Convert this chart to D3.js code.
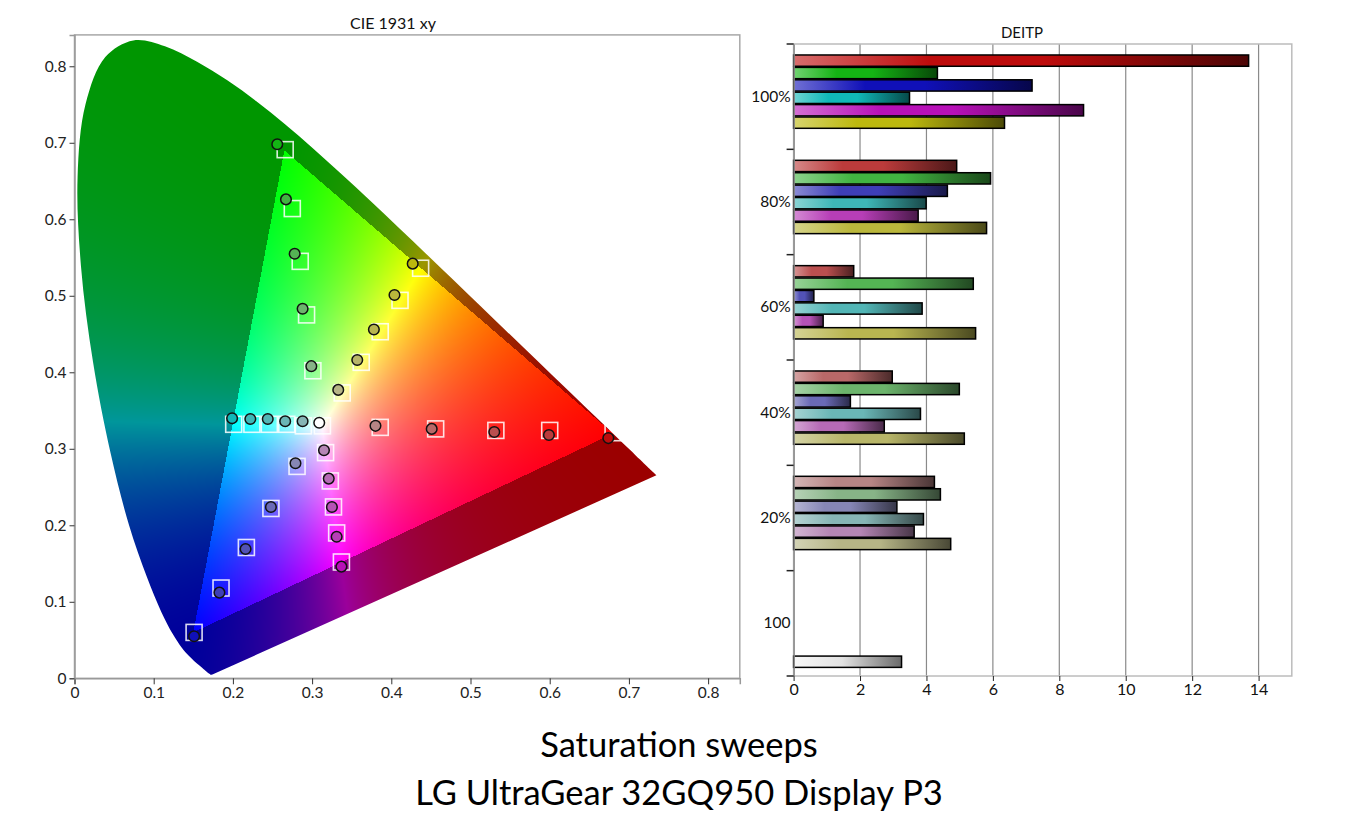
<!DOCTYPE html>
<html>
<head>
<meta charset="utf-8">
<script src="https://cdn.jsdelivr.net/npm/d3@7"></script>
<style>
  body { margin: 0; background: #fff; }
  svg { display: block; font-family: Lato, "Open Sans", sans-serif; }
</style>
</head>
<body>
<svg id="chart" width="1353" height="837"></svg>
<script>
// Saturation levels, low to high
const levels = ["20%", "40%", "60%", "80%", "100%"];
const seriesNames = ["Red", "Green", "Blue", "Cyan", "Magenta", "Yellow"];

// CIE 1931 xy: targets (squares) and measured (circles), 20% -> 100%
const redTarget = [[0.386, 0.328], [0.456, 0.326], [0.532, 0.324], [0.600, 0.324], [0.680, 0.321]];
const redMeasured = [[0.380, 0.330], [0.451, 0.326], [0.530, 0.322], [0.599, 0.318], [0.674, 0.314]];
const greenTarget = [[0.301, 0.402], [0.293, 0.475], [0.285, 0.545], [0.275, 0.614], [0.266, 0.691]];
const greenMeasured = [[0.299, 0.408], [0.288, 0.483], [0.278, 0.555], [0.267, 0.626], [0.256, 0.698]];
const blueTarget = [[0.281, 0.277], [0.248, 0.222], [0.217, 0.171], [0.185, 0.118], [0.151, 0.060]];
const blueMeasured = [[0.279, 0.281], [0.248, 0.224], [0.216, 0.169], [0.183, 0.112], [0.151, 0.055]];
const cyanTarget = [[0.289, 0.330], [0.268, 0.332], [0.246, 0.332], [0.224, 0.332], [0.201, 0.332]];
const cyanMeasured = [[0.288, 0.336], [0.266, 0.336], [0.244, 0.339], [0.222, 0.339], [0.199, 0.340]];
const magentaTarget = [[0.317, 0.295], [0.323, 0.258], [0.327, 0.224], [0.331, 0.190], [0.337, 0.152]];
const magentaMeasured = [[0.315, 0.298], [0.321, 0.261], [0.325, 0.224], [0.331, 0.185], [0.337, 0.146]];
const yellowTarget = [[0.338, 0.373], [0.362, 0.413], [0.386, 0.453], [0.411, 0.494], [0.437, 0.536]];
const yellowMeasured = [[0.333, 0.377], [0.357, 0.416], [0.378, 0.456], [0.404, 0.501], [0.427, 0.542]];
const whiteTarget = [0.313, 0.330];
const whiteMeasured = [0.309, 0.334];

// DEITP per series, 20% -> 100%
const deitpRed = [4.24, 2.97, 1.81, 4.91, 13.70];
const deitpGreen = [4.42, 4.99, 5.41, 5.93, 4.33];
const deitpBlue = [3.11, 1.71, 0.61, 4.63, 7.18];
const deitpCyan = [3.91, 3.82, 3.87, 3.99, 3.49];
const deitpMagenta = [3.63, 2.73, 0.89, 3.75, 8.73];
const deitpYellow = [4.73, 5.14, 5.48, 5.81, 6.35];
const deitpWhite = 3.25;

// axis / category labels
const cieTicks = [0, 0.1, 0.2, 0.3, 0.4, 0.5, 0.6, 0.7, 0.8];
const deitpTicks = [0, 2, 4, 6, 8, 10, 12, 14];
const barCategories = ["100%", "80%", "60%", "40%", "20%", "100"];

// Display P3 primaries and the CIE 1931 2deg spectral locus (380-700nm)
const p3Primaries = [[0.680, 0.320], [0.265, 0.690], [0.150, 0.060]];
const spectralLocus = [
  [0.1741, 0.0050], [0.1740, 0.0050], [0.1738, 0.0049], [0.1736, 0.0049], [0.1733, 0.0048],
  [0.1730, 0.0048], [0.1726, 0.0048], [0.1721, 0.0048], [0.1714, 0.0051], [0.1703, 0.0058],
  [0.1689, 0.0069], [0.1669, 0.0086], [0.1644, 0.0109], [0.1611, 0.0138], [0.1566, 0.0177],
  [0.1510, 0.0227], [0.1440, 0.0297], [0.1355, 0.0399], [0.1241, 0.0578], [0.1096, 0.0868],
  [0.0913, 0.1327], [0.0687, 0.2007], [0.0454, 0.2950], [0.0235, 0.4127], [0.0082, 0.5384],
  [0.0039, 0.6548], [0.0139, 0.7502], [0.0389, 0.8120], [0.0743, 0.8338], [0.1142, 0.8262],
  [0.1547, 0.8059], [0.1929, 0.7816], [0.2296, 0.7543], [0.2658, 0.7243], [0.3016, 0.6923],
  [0.3373, 0.6589], [0.3731, 0.6245], [0.4087, 0.5896], [0.4441, 0.5547], [0.4788, 0.5202],
  [0.5125, 0.4866], [0.5448, 0.4544], [0.5752, 0.4242], [0.6029, 0.3965], [0.6270, 0.3725],
  [0.6482, 0.3514], [0.6658, 0.3340], [0.6801, 0.3197], [0.6915, 0.3083], [0.7006, 0.2993],
  [0.7079, 0.2920], [0.7140, 0.2859], [0.7190, 0.2809], [0.7230, 0.2770], [0.7260, 0.2740],
  [0.7283, 0.2717], [0.7300, 0.2700], [0.7311, 0.2689], [0.7320, 0.2680], [0.7334, 0.2666],
  [0.7344, 0.2656], [0.7347, 0.2653]
];

// styles
const seriesColors = ["#be0c0c", "#14b414", "#1010b8", "#10b8b8", "#b810b8", "#bcb80e"];
const levelMix = [0.28, 0.45, 0.6, 0.72, 1];
const mixGray = "#b4b4b4";

const svg = d3.select("#chart");
const defs = svg.append("defs");

function levelColor(si, li) {
  return d3.interpolateRgb(mixGray, seriesColors[si])(levelMix[li]);
}

// ---------------- CIE 1931 xy ----------------
const x = d3.scaleLinear().domain([0, 0.84]).range([74.5, 739.8]);
const y = d3.scaleLinear().domain([0, 0.841]).range([678.3, 34.9]);

// horseshoe outline, closed by the straight line of purples
const locusLine = d3.line().x(d => x(d[0])).y(d => y(d[1])).curve(d3.curveCatmullRom);
defs.append("clipPath").attr("id", "locus-clip")
  .append("path").attr("d", locusLine(spectralLocus) + "Z");

// chromaticity background, one pixel at a time
function drawGamutImage() {
  const left = 74, top = 35, w = 666, h = 644;
  const canvas = document.createElement("canvas");
  canvas.width = w; canvas.height = h;
  const ctx = canvas.getContext("2d");
  const img = ctx.createImageData(w, h);
  const triPx = p3Primaries.map(d => [x(d[0]), y(d[1])]);

  for (let j = 0; j < h; j++) {
    for (let i = 0; i < w; i++) {
      const px = left + i + 0.5, py = top + j + 0.5;
      const cx = Math.max(0.001, x.invert(px)), cy = Math.max(0.001, y.invert(py));
      const X = cx / cy, Y = 1, Z = Math.max(0, (1 - cx - cy) / cy);
      let r = Math.max(0, 2.4934969 * X - 0.9313836 * Y - 0.4027108 * Z);
      let g = Math.max(0, -0.8294890 * X + 1.7626641 * Y + 0.0236247 * Z);
      let b = Math.max(0, 0.0358458 * X - 0.0761724 * Y + 0.9568845 * Z);
      const m = Math.max(r, g, b) || 1;
      r /= m; g /= m; b /= m;
      const k = (j * w + i) * 4;
      if (d3.polygonContains(triPx, [px, py])) {
        img.data[k] = 255 * r;
        img.data[k + 1] = 255 * g;
        img.data[k + 2] = 255 * b;
      } else {
        img.data[k] = 155 * Math.pow(r, 1.4);
        img.data[k + 1] = 150 * Math.pow(g, 1.4);
        img.data[k + 2] = 155 * Math.pow(b, 1.4);
      }
      img.data[k + 3] = 255;
    }
  }
  ctx.putImageData(img, 0, 0);
  svg.append("image")
    .attr("x", left).attr("y", top)
    .attr("width", w).attr("height", h)
    .attr("clip-path", "url(#locus-clip)")
    .attr("href", canvas.toDataURL());
}
drawGamutImage();

// frame
svg.append("rect")
  .attr("x", x(0)).attr("y", y(0.841))
  .attr("width", x(0.84) - x(0)).attr("height", y(0) - y(0.841))
  .attr("fill", "none").attr("stroke", "#a8a8a8").attr("stroke-width", 1.5);

const fmt = d => d === 0 ? "0" : d3.format(".1f")(d);
const xAxis = svg.append("g")
  .attr("transform", `translate(0,${y(0)})`)
  .call(d3.axisBottom(x).tickValues(cieTicks).tickSize(6).tickFormat(fmt));
const yAxis = svg.append("g")
  .attr("transform", `translate(${x(0)},0)`)
  .call(d3.axisLeft(y).tickValues(cieTicks).tickSize(5).tickFormat(fmt));
[xAxis, yAxis].forEach(a => {
  a.select(".domain").attr("stroke", "#999").attr("stroke-width", 1.5);
  a.selectAll(".tick line").attr("stroke", "#333");
  a.selectAll(".tick text").attr("font-size", 15.5).attr("fill", "#222").attr("font-family", "Lato, sans-serif");
});

svg.append("text")
  .attr("x", 393).attr("y", 29)
  .attr("text-anchor", "middle").attr("font-size", 16).attr("fill", "#111")
  .text("CIE 1931 xy");

const targets = [redTarget, greenTarget, blueTarget, cyanTarget, magentaTarget, yellowTarget];
const measured = [redMeasured, greenMeasured, blueMeasured, cyanMeasured, magentaMeasured, yellowMeasured];

const targetPts = [];
const measuredPts = [];
seriesNames.forEach((s, si) => {
  levels.forEach((l, li) => {
    targetPts.push({ xy: targets[si][li] });
    measuredPts.push({ xy: measured[si][li], fill: levelColor(si, li) });
  });
});
targetPts.push({ xy: whiteTarget });
measuredPts.push({ xy: whiteMeasured, fill: "#ffffff" });

const sq = 16;
svg.append("g").selectAll("rect")
  .data(targetPts).join("rect")
  .attr("x", d => x(d.xy[0]) - sq / 2)
  .attr("y", d => y(d.xy[1]) - sq / 2)
  .attr("width", sq).attr("height", sq)
  .attr("fill", "none").attr("stroke", "#fff").attr("stroke-opacity", 0.85).attr("stroke-width", 1.6);

svg.append("g").selectAll("circle")
  .data(measuredPts).join("circle")
  .attr("cx", d => x(d.xy[0]))
  .attr("cy", d => y(d.xy[1]))
  .attr("r", 5.3)
  .attr("fill", d => d.fill)
  .attr("stroke", "#111").attr("stroke-width", 1.5);

// ---------------- DEITP bars ----------------
const bx = d3.scaleLinear().domain([0, 15]).range([793.6, 1291.8]);
const by = d3.scaleBand().domain(barCategories).range([44, 676]);
const slots = seriesNames.concat(["White"]);
const inner = d3.scaleBand().domain(slots).range([0, by.bandwidth()])
  .paddingInner(0.09).paddingOuter(0.79).align(0.56);

// gridlines
svg.append("g").selectAll("line")
  .data(deitpTicks.filter(d => d > 0)).join("line")
  .attr("x1", d => bx(d)).attr("x2", d => bx(d))
  .attr("y1", 44).attr("y2", 676)
  .attr("stroke", "#8a8a8a").attr("stroke-width", 1.2);

// frame
svg.append("rect")
  .attr("x", bx(0)).attr("y", 44)
  .attr("width", bx(15) - bx(0)).attr("height", 632)
  .attr("fill", "none").attr("stroke", "#bcbcbc").attr("stroke-width", 1.5);

svg.append("text")
  .attr("x", 1022).attr("y", 38)
  .attr("text-anchor", "middle").attr("font-size", 15).attr("fill", "#111")
  .text("DEITP");

const deitp = [deitpRed, deitpGreen, deitpBlue, deitpCyan, deitpMagenta, deitpYellow];
const bars = [];
levels.forEach((l, li) => {
  seriesNames.forEach((s, si) => {
    const id = `grad-${si}-${li}`;
    const base = levelColor(si, li);
    const grad = defs.append("linearGradient").attr("id", id)
      .attr("x1", "0%").attr("x2", "100%").attr("y1", "0%").attr("y2", "0%");
    grad.append("stop").attr("offset", "0%").attr("stop-color", d3.interpolateRgb(base, "#fff")(0.4));
    grad.append("stop").attr("offset", "30%").attr("stop-color", base);
    grad.append("stop").attr("offset", "55%").attr("stop-color", base);
    grad.append("stop").attr("offset", "100%").attr("stop-color", d3.interpolateRgb(base, "#000")(0.6));
    bars.push({ cat: l, slot: s, value: deitp[si][li], fill: `url(#${id})` });
  });
});
const wg = defs.append("linearGradient").attr("id", "grad-white")
  .attr("x1", "0%").attr("x2", "100%").attr("y1", "0%").attr("y2", "0%");
wg.append("stop").attr("offset", "0%").attr("stop-color", "#f8f8f8");
wg.append("stop").attr("offset", "45%").attr("stop-color", "#e2e2e2");
wg.append("stop").attr("offset", "100%").attr("stop-color", "#6a6a6a");
bars.push({ cat: "100", slot: "White", value: deitpWhite, fill: "url(#grad-white)" });

svg.append("g").selectAll("rect")
  .data(bars).join("rect")
  .attr("x", bx(0))
  .attr("y", d => by(d.cat) + inner(d.slot))
  .attr("width", d => bx(d.value) - bx(0))
  .attr("height", inner.bandwidth())
  .attr("fill", d => d.fill)
  .attr("stroke", "#000").attr("stroke-width", 1.5);

// x axis
const bxAxis = svg.append("g")
  .attr("transform", "translate(0,676)")
  .call(d3.axisBottom(bx).tickValues(deitpTicks).tickSize(5));
bxAxis.select(".domain").remove();
bxAxis.selectAll(".tick line").attr("stroke", "#222");
bxAxis.selectAll(".tick text").attr("font-size", 16).attr("fill", "#111").attr("font-family", "Lato, sans-serif");

// y axis: labels at band centres, tick marks on band edges
const byAxis = svg.append("g")
  .attr("transform", `translate(${bx(0)},0)`)
  .call(d3.axisLeft(by).tickSize(0).tickPadding(3));
byAxis.select(".domain").attr("stroke", "#888").attr("stroke-width", 1.5);
byAxis.selectAll(".tick text").attr("font-size", 15.5).attr("fill", "#111").attr("font-family", "Lato, sans-serif");
svg.append("g").selectAll("line")
  .data(barCategories.map(c => by(c)).concat([by.range()[1]])).join("line")
  .attr("x1", bx(0) - 7).attr("x2", bx(0))
  .attr("y1", d => d).attr("y2", d => d)
  .attr("stroke", "#222").attr("stroke-width", 1.5);

// ---------------- titles ----------------
svg.append("text")
  .attr("x", 679).attr("y", 757)
  .attr("text-anchor", "middle").attr("font-size", 34.5).attr("fill", "#000")
  .text("Saturation sweeps");
svg.append("text")
  .attr("x", 679).attr("y", 805)
  .attr("text-anchor", "middle").attr("font-size", 34.5).attr("fill", "#000")
  .text("LG UltraGear 32GQ950 Display P3");
</script>
</body>
</html>
